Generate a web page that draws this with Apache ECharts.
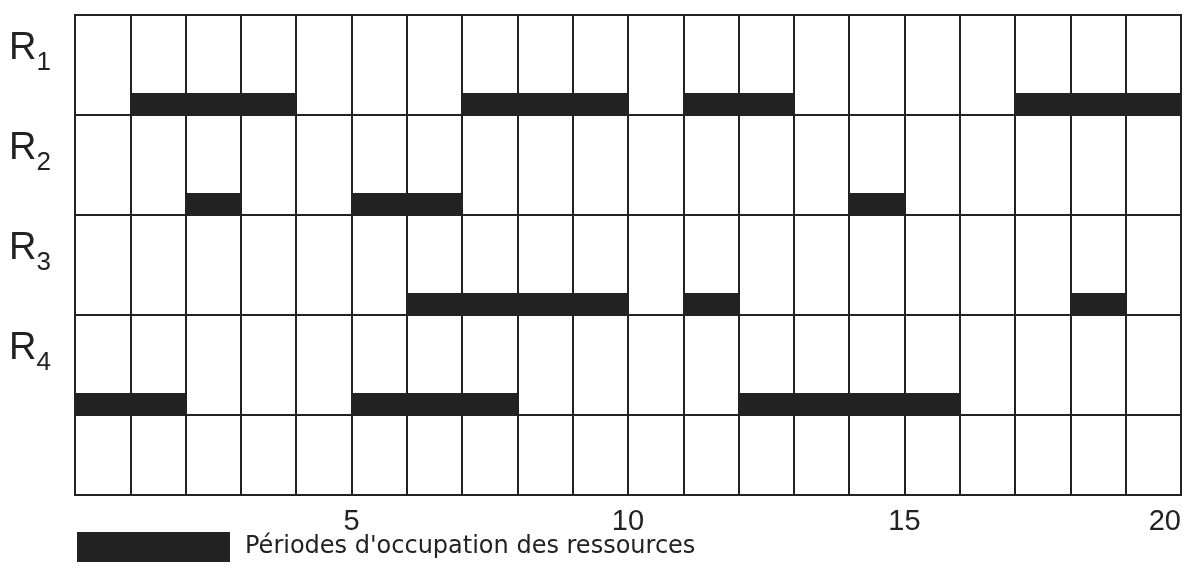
<!DOCTYPE html>
<html>
<head>
<meta charset="utf-8">
<script src="https://cdn.jsdelivr.net/npm/echarts@6/dist/echarts.min.js"></script>
<style>
  html, body { margin: 0; padding: 0; background: #fff; }
  #chart { width: 1184px; height: 587px; }
</style>
</head>
<body>
<div id="chart"></div>
<script>
// resources (rows, top to bottom)
var resources = ["1", "2", "3", "4"];
// occupation periods per resource: [start, end]
var periodsR1 = [[1, 4], [7, 10], [11, 13], [17, 20]];
var periodsR2 = [[2, 3], [5, 7], [14, 15]];
var periodsR3 = [[6, 10], [11, 12], [18, 19]];
var periodsR4 = [[0, 2], [5, 8], [12, 16]];
var xTickLabels = [5, 10, 15, 20];
var legendName = "Périodes d'occupation des ressources";

var allPeriods = [periodsR1, periodsR2, periodsR3, periodsR4];
var ganttData = [];
allPeriods.forEach(function (list, row) {
  list.forEach(function (p) {
    ganttData.push([row, p[0], p[1]]);
  });
});

var ink = "#222";
var font = "Liberation Sans, Arial, sans-serif";
var myChart = echarts.init(document.getElementById("chart"));

function renderItem(params, api) {
  var row = api.value(0);
  var p0 = api.coord([api.value(1), row + 1]);
  var p1 = api.coord([api.value(2), row + 1]);
  var h = 22;
  return {
    type: "rect",
    shape: { x: p0[0], y: p0[1] - h, width: p1[0] - p0[0], height: h },
    style: { fill: ink }
  };
}

var option = {
  animation: false,
  backgroundColor: "#fff",
  color: [ink],
  grid: { left: 75, right: 3, top: 15, bottom: 92, show: true, borderColor: ink, borderWidth: 2 },
  legend: {
    left: 72,
    top: 527,
    selectedMode: false,
    icon: "rect",
    itemWidth: 153,
    itemHeight: 30,
    data: [legendName],
    textStyle: { fontSize: 24, color: ink, fontFamily: "DejaVu Sans, sans-serif", padding: [0, 0, 8, 10] }
  },
  xAxis: {
    type: "value",
    min: 0,
    max: 20,
    interval: 1,
    axisLine: { show: false },
    axisTick: { show: false },
    splitLine: { show: true, lineStyle: { color: ink, width: 2 } },
    axisLabel: {
      margin: 12,
      fontSize: 29,
      color: ink,
      fontFamily: font,
      alignMaxLabel: "right",
      formatter: function (v) {
        return xTickLabels.indexOf(v) >= 0 ? String(v) : "";
      }
    }
  },
  yAxis: {
    type: "value",
    inverse: true,
    min: 0,
    max: 4.8,
    interval: 1,
    axisLine: { show: false },
    axisTick: { show: false },
    splitLine: { show: true, lineStyle: { color: ink, width: 2 } },
    axisLabel: {
      margin: 24,
      verticalAlign: "top",
      padding: [9, 0, 0, 0],
      color: ink,
      formatter: function (v) {
        var i = Math.round(v);
        if (v !== i || i >= resources.length) return "";
        return "{r|R}{s|" + resources[i] + "}";
      },
      rich: {
        r: { fontSize: 38, color: ink, fontFamily: font, verticalAlign: "bottom", lineHeight: 44 },
        s: { fontSize: 26, color: ink, fontFamily: font, verticalAlign: "bottom", lineHeight: 44, padding: [0, 0, -8, 0] }
      }
    }
  },
  series: [
    {
      name: legendName,
      type: "custom",
      renderItem: renderItem,
      itemStyle: { color: ink },
      encode: { x: [1, 2], y: 0 },
      data: ganttData
    }
  ]
};

myChart.setOption(option);
</script>
</body>
</html>
